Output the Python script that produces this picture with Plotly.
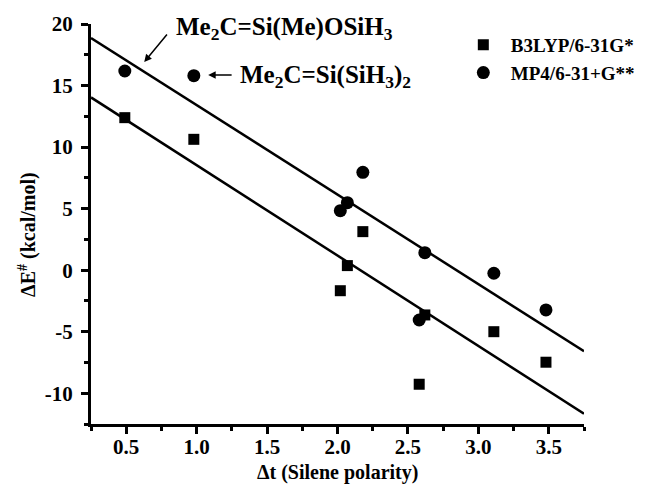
import numpy as np
import plotly.graph_objects as go

# ---- data ----
polarity = [0.49, 0.98, 2.18, 2.07, 2.02, 2.58, 2.62, 3.11, 3.48]          # Δt
b3lyp = [12.39, 10.63, 3.13, 0.37, -1.67, -9.27, -3.64, -5.00, -7.48]      # B3LYP/6-31G*
mp4 = [16.18, 15.80, 7.95, 5.48, 4.83, -4.05, 1.42, -0.25, -3.23]          # MP4/6-31+G**
series_names = ["B3LYP/6-31G*", "MP4/6-31+G**"]
x_ticks = [0.5, 1.0, 1.5, 2.0, 2.5, 3.0, 3.5]
x_labels = ["0.5", "1.0", "1.5", "2.0", "2.5", "3.0", "3.5"]
y_ticks = [-10, -5, 0, 5, 10, 15, 20]
y_labels = ["-10", "-5", "0", "5", "10", "15", "20"]
fit_span = [0.25, 3.75]
x_range = [0.25, 3.75]
y_range = [-12.5, 20]

FONT = "Liberation Serif"

fig = go.Figure()

# linear fits
xs = np.array(fit_span)
for vals in (b3lyp, mp4):
    k, b = np.polyfit(polarity, vals, 1)
    fig.add_trace(go.Scatter(x=xs, y=k * xs + b, mode="lines",
                             line=dict(color="black", width=2.5),
                             showlegend=False, hoverinfo="skip"))

fig.add_trace(go.Scatter(x=polarity, y=b3lyp, mode="markers", name=series_names[0],
                         marker=dict(symbol="square", size=11, color="black")))
fig.add_trace(go.Scatter(x=polarity, y=mp4, mode="markers", name=series_names[1],
                         marker=dict(symbol="circle", size=13, color="black")))

tickfont = dict(family=FONT, size=21, color="black", weight="bold")
titlefont = dict(family=FONT, size=20, color="black", weight="bold")

# page body has an 8px margin, so the figure is drawn 8px smaller and offset
fig.update_layout(
    template="none",
    width=641, height=479,
    margin=dict(l=83, r=65, t=16, b=63, autoexpand=False),
    paper_bgcolor="white", plot_bgcolor="white",
    font=dict(family=FONT, color="black"),
    legend=dict(x=0.740, y=0.995, xanchor="left", yanchor="top",
                bgcolor="rgba(0,0,0,0)",
                font=dict(family=FONT, size=19, color="black", weight="bold"),
                tracegroupgap=0, itemwidth=45),
    xaxis=dict(range=x_range, showgrid=False, zeroline=False, automargin=False,
               showline=True, linecolor="black", linewidth=3,
               ticks="outside", tickmode="array", tickvals=x_ticks, ticktext=x_labels,
               ticklen=7, tickwidth=2.5, tickcolor="black", tickfont=tickfont,
               ticklabelstandoff=-5,
               minor=dict(dtick=0.25, tick0=0.25, ticks="outside", ticklen=4,
                          tickwidth=2.5, tickcolor="black")),
    yaxis=dict(range=y_range, showgrid=False, zeroline=False, automargin=False,
               showline=True, linecolor="black", linewidth=3,
               ticks="outside", tickmode="array", tickvals=y_ticks, ticktext=y_labels,
               ticklen=7, tickwidth=2.5, tickcolor="black", tickfont=tickfont,
               ticklabelstandoff=4,
               minor=dict(dtick=2.5, tick0=0, ticks="outside", ticklen=4,
                          tickwidth=2.5, tickcolor="black")),
)

# axis titles
fig.add_annotation(x=0.5, y=-0.122, xref="paper", yref="paper", xanchor="center",
                   yanchor="middle", text="Δt (Silene polarity)", showarrow=False,
                   font=titlefont)
fig.add_annotation(x=-0.13, y=0.475, xref="paper", yref="paper", xanchor="center",
                   yanchor="middle", text="ΔE<sup>#</sup> (kcal/mol)", showarrow=False,
                   textangle=-90, font=titlefont)

annfont = dict(family=FONT, size=25, color="black", weight="bold")
# arrow to upper fit line
fig.add_annotation(x=0.628, y=16.91, ax=0.798, ay=19.27, xref="x", yref="y",
                   axref="x", ayref="y", text="", showarrow=True,
                   arrowhead=2, arrowsize=1, arrowwidth=1.5, arrowcolor="black")
fig.add_annotation(x=0.841, y=19.63, xref="x", yref="y", xanchor="left", yanchor="middle",
                   text="Me<sub>2</sub>C=Si(Me)OSiH<sub>3</sub>", showarrow=False, font=annfont)
# arrow to circle point
fig.add_annotation(x=1.082, y=15.86, ax=1.259, ay=15.86, xref="x", yref="y",
                   axref="x", ayref="y", text="", showarrow=True,
                   arrowhead=2, arrowsize=1, arrowwidth=1.5, arrowcolor="black")
fig.add_annotation(x=1.295, y=15.75, xref="x", yref="y", xanchor="left", yanchor="middle",
                   text="Me<sub>2</sub>C=Si(SiH<sub>3</sub>)<sub>2</sub>", showarrow=False, font=annfont)

fig.write_html("out.html")
